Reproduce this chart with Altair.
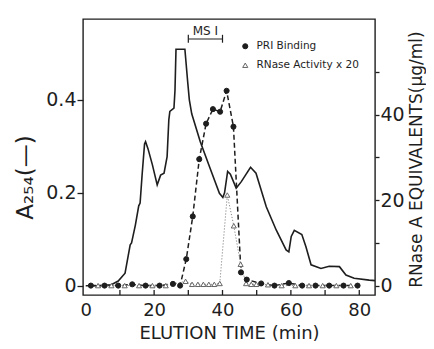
import altair as alt
import pandas as pd

# ---- A254 trace (left axis) ----
a_time = [0, 4, 7.5, 9.5, 11.5, 13.0, 13.4, 14.5, 15.5, 15.9, 16.5, 17.2, 17.5, 18.2, 19.5,
          20.9, 21.9, 22.9, 23.8, 24.3, 24.6, 25.8, 26.1, 26.4, 29.0, 29.8, 30.3, 31.0, 33.5,
          36.2, 39.1, 40.1, 40.6, 41.5, 42.3, 44.0, 45.5, 48.2, 49.8, 52.8, 55.7, 58.6, 59.4,
          60.1, 61.0, 63.2, 64.4, 65.9, 68.8, 71.2, 74.2, 76.1, 78.5, 82.9, 84.6]
a_abs = [0, 0, 0.002, 0.01, 0.027, 0.088, 0.092, 0.13, 0.172, 0.178, 0.24, 0.305, 0.31, 0.295, 0.26,
         0.217, 0.238, 0.242, 0.278, 0.357, 0.375, 0.382, 0.42, 0.509, 0.509, 0.44, 0.40, 0.37, 0.31,
         0.256, 0.199, 0.19, 0.20, 0.246, 0.24, 0.21, 0.224, 0.255, 0.242, 0.17, 0.12, 0.077, 0.073,
         0.106, 0.119, 0.11, 0.084, 0.045, 0.037, 0.042, 0.041, 0.023, 0.016, 0.012, 0.011]

# ---- PRI binding (right axis) ----
pri_time = [1.5, 5.5, 9.5, 13.6, 17.5, 21.6, 25.5, 27.6, 29.4, 31.3, 33.2, 35.2, 37.2, 39.3,
            41.2, 43.2, 45.4, 47.1, 51.3, 55.2, 59.4, 63.3, 67.2, 71.2, 75.4, 79.5]
pri_val = [0, 0, 0, 0.3, 0, 0, 0.4, 0, 6.2, 16.2, 29.6, 37.9, 41.3, 40.7,
           45.6, 37.2, 3.1, 1.4, 0.5, 0, 0.6, 0, 0, 0, 0, 0]

# ---- RNase activity x 20 (right axis) ----
rn_time = [3.6, 7.5, 11.4, 15.6, 19.5, 23.4, 29.2, 31.1, 32.8, 34.4, 36.0, 37.6, 39.2,
           41.4, 43.3, 45.3, 46.9, 48.4, 49.9, 53.3, 57.3, 61.3, 65.3, 69.3, 73.3, 77.5]
rn_val = [0, 0, 0, 0, 0, 0, 1.0, 0.3, 0.3, 0.3, 0.3, 0.3, 0.5,
          21.2, 14.0, 5.0, 0.5, 0.3, 0.3, 0.2, 0, 0, 0, 0, 0, 0]

series_names = ["PRI Binding", "RNase Activity x 20"]
x_labels = [0, 20, 40, 60, 80]
x_inner_ticks = [10, 20, 30, 40, 50, 60, 70, 80]
left_ticks = [0, 0.2, 0.4]
right_ticks = [0, 10, 20, 30, 40, 50]

ms_label = "MS I"
ms_start, ms_end, ms_level = 30, 40, 0.531

FONT = "DejaVu Sans"
INK = "#1e1e1e"

df_a = pd.DataFrame({"t": a_time, "v": a_abs})
df_pri = pd.DataFrame({"t": pri_time, "v": pri_val, "s": series_names[0]})
df_rn = pd.DataFrame({"t": rn_time, "v": rn_val, "s": series_names[1]})
df_pts = pd.concat([df_rn, df_pri], ignore_index=True)
df_xt = pd.DataFrame({"t": x_inner_ticks})
df_ms = pd.DataFrame({"t": [ms_start], "t2": [ms_end], "v": [ms_level]})
df_cap = pd.DataFrame({"t": [ms_start, ms_end], "v": [ms_level - 0.008] * 2, "v2": [ms_level + 0.009] * 2})
df_mstext = pd.DataFrame({"t": [(ms_start + ms_end) / 2], "v": [ms_level + 0.008], "txt": [ms_label]})

x_scale = alt.Scale(domain=[-0.8, 84.6], nice=False, zero=False)
x_axis = alt.Axis(values=x_labels, ticks=False, domain=False, grid=False, format="d",
                  labelFontSize=18, labelPadding=6, labelFont=FONT, labelColor=INK,
                  title="ELUTION TIME (min)", titleFontSize=18, titleFont=FONT,
                  titleFontWeight="normal", titleColor=INK, titleY=43, titleBaseline="alphabetic")
X = alt.X("t:Q", scale=x_scale, axis=x_axis)

yl_scale = alt.Scale(domain=[-0.020, 0.574], nice=False, zero=False)
yl_axis = alt.Axis(values=left_ticks, labelExpr="datum.value == 0 ? '0' : format(datum.value, '.1f')",
                   tickSize=6, tickColor=INK, tickWidth=1.3, labelPadding=1, domain=False, grid=False,
                   labelFontSize=19, labelFont=FONT, labelColor=INK,
                   title="A₂₅₄(—)", titleFontSize=23, titleFont=FONT, titleFontWeight="normal",
                   titleColor=INK, titleAngle=270, titleX=-58, titleY=158, titleAlign="center",
                   titleBaseline="middle")
YL = alt.Y("v:Q", scale=yl_scale, axis=yl_axis)

yr_scale = alt.Scale(domain=[-2.2, 62.4], nice=False, zero=False)
yr_axis = alt.Axis(orient="right", values=right_ticks,
                   labelExpr="(datum.value % 20 == 0) ? datum.label : ''",
                   tickSize=4, tickColor=INK, tickWidth=1.3, labelPadding=1, domain=False, grid=False,
                   labelFontSize=19, labelFont=FONT, labelColor=INK,
                   title="RNase A EQUIVALENTS(μg/ml)", titleFontSize=17, titleFont=FONT,
                   titleFontWeight="normal", titleColor=INK, titleAngle=270, titleX=41, titleY=140,
                   titleAlign="center", titleBaseline="middle")
YR = alt.Y("v:Q", scale=yr_scale, axis=yr_axis)

# left group
a_line = alt.Chart(df_a).mark_line(color=INK, strokeWidth=1.6).encode(x=X, y=YL)
xt = alt.Chart(df_xt).mark_rule(color=INK, strokeWidth=1.3).encode(
    x=X, y=alt.value(276), y2=alt.value(271))
ms_rule = alt.Chart(df_ms).mark_rule(color=INK, strokeWidth=1.2).encode(x=X, x2="t2:Q", y=YL)
ms_caps = alt.Chart(df_cap).mark_rule(color=INK, strokeWidth=1.2).encode(x=X, y=YL, y2="v2:Q")
ms_text = alt.Chart(df_mstext).mark_text(font=FONT, fontSize=12, color=INK, baseline="alphabetic").encode(
    x=X, y=YL, text="txt:N")
left = alt.layer(a_line, xt, ms_rule, ms_caps, ms_text)

# right group
pri_line = alt.Chart(df_pri).mark_line(color=INK, strokeWidth=1.5, strokeDash=[5, 3]).encode(x=X, y=YR)
rn_line = alt.Chart(df_rn).mark_line(color="#888888", strokeWidth=1.0, strokeDash=[1.2, 1.8]).encode(x=X, y=YR)
leg = alt.Legend(orient="none", legendX=157, legendY=22, title=None, labelFont=FONT,
                 labelFontSize=10.5, labelColor=INK, symbolSize=26, rowPadding=8, padding=0,
                 labelOffset=6, symbolStrokeWidth=1)
pts = alt.Chart(df_pts).mark_point(size=26, filled=False, strokeWidth=1, opacity=1).encode(
    x=X, y=YR,
    shape=alt.Shape("s:N", scale=alt.Scale(domain=series_names, range=["circle", "triangle-up"]), legend=leg),
    fill=alt.Fill("s:N", scale=alt.Scale(domain=series_names, range=[INK, "white"]), legend=leg),
    stroke=alt.Stroke("s:N", scale=alt.Scale(domain=series_names, range=[INK, "#666666"]), legend=leg),
)
right = alt.layer(pri_line, rn_line, pts)

chart = alt.layer(left, right).resolve_scale(y="independent").properties(
    width=292, height=276,
    autosize=alt.AutoSizeParams(type="none"),
    padding={"left": 75, "top": 11, "right": 51, "bottom": 46},
    background="white",
).configure_view(stroke=INK, strokeWidth=1.4)

chart.save("out.html", embed_options={"renderer": "svg", "actions": False})
